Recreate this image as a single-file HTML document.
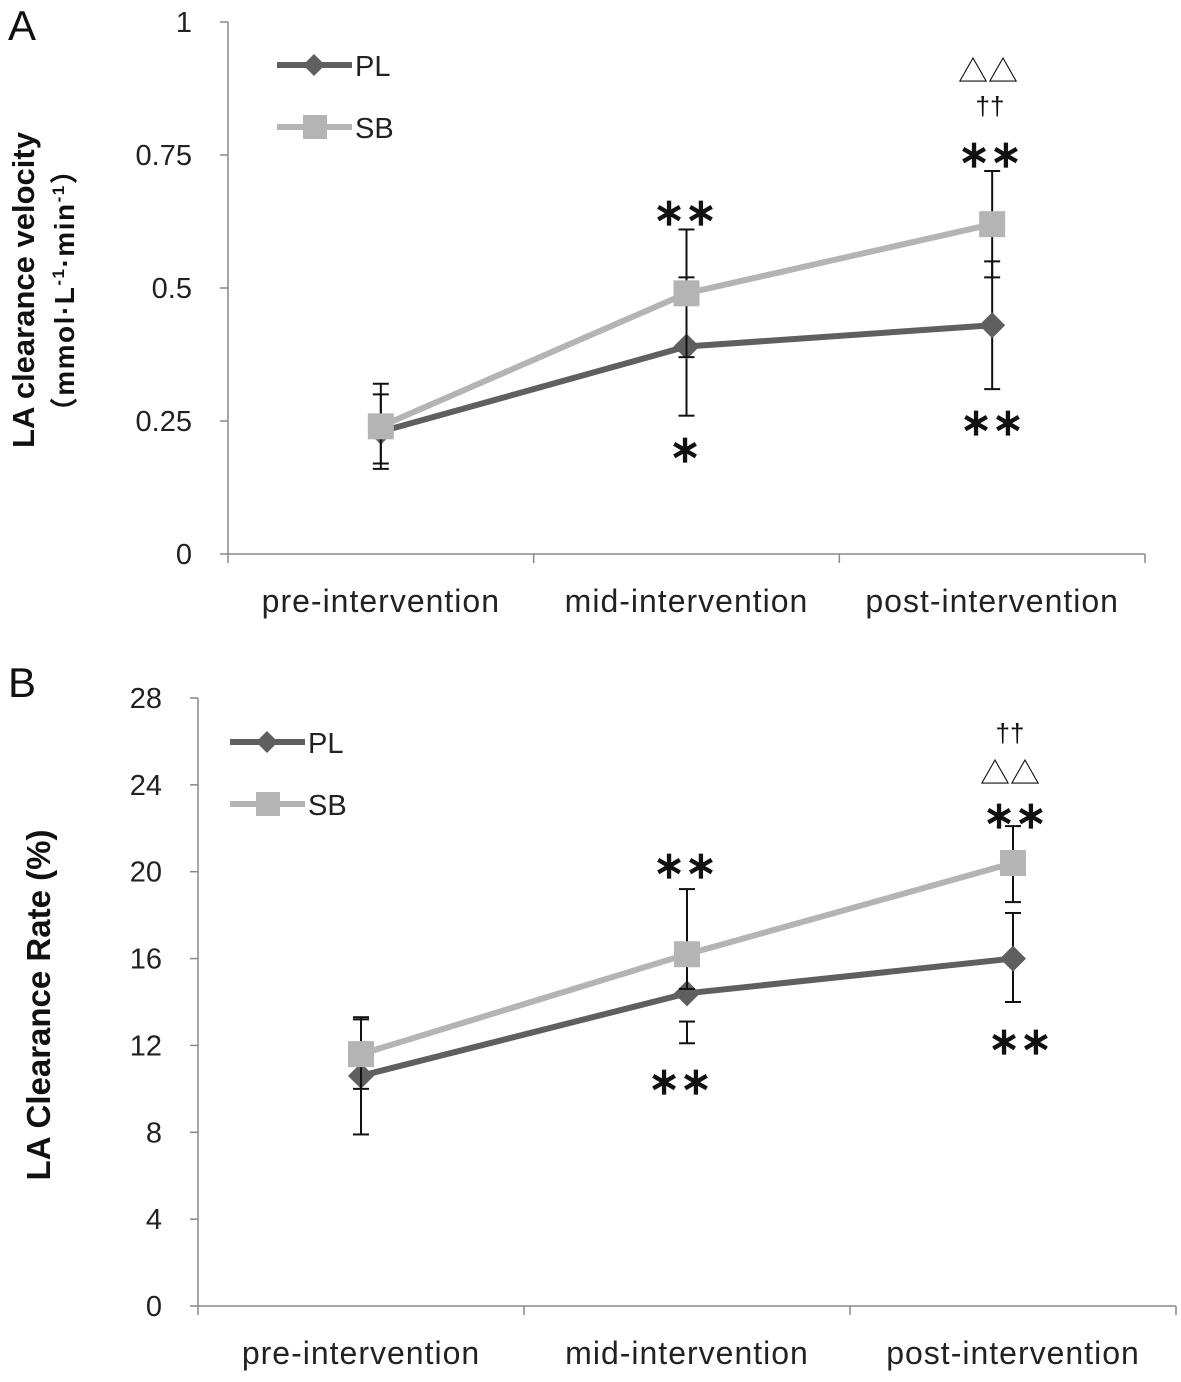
<!DOCTYPE html>
<html><head><meta charset="utf-8"><style>
body{margin:0;background:#fff;}
svg text{font-family:"Liberation Sans","Noto Sans CJK SC",sans-serif;}
</style></head><body>
<svg id="chart" width="1181" height="1377"></svg>
<script>
const categories=["pre-intervention","mid-intervention","post-intervention"];
const aPL=[0.23,0.39,0.43], aPLlo=[0.16,0.26,0.31], aPLhi=[0.30,0.52,0.55];
const aSB=[0.24,0.49,0.62], aSBlo=[0.17,0.37,0.52], aSBhi=[0.32,0.61,0.72];
const aTicks=[0,0.25,0.5,0.75,1];
const aTickLabels=["0","0.25","0.5","0.75","1"];
const bPL=[10.6,14.4,16.0], bPLlo=[7.9,12.1,14.0], bPLhi=[13.2,13.1,18.1];
const bSB=[11.6,16.2,20.4], bSBlo=[10.0,14.6,18.6], bSBhi=[13.3,19.2,22.1];
const bTicks=[0,4,8,12,16,20,24,28];
const bTickLabels=["0","4","8","12","16","20","24","28"];
const NS="http://www.w3.org/2000/svg";
const svg=document.getElementById('chart');
function el(t,a,txt){const e=document.createElementNS(NS,t);for(const k in a)e.setAttribute(k,a[k]);if(txt!==undefined)e.textContent=txt;svg.appendChild(e);return e;}
const DARK="#5f5f5f",LIGHT="#b4b4b4";
function panel(o){
  const y=v=>o.y0-(v-o.vmin)/(o.vmax-o.vmin)*(o.y0-o.y1);
  const bw=(o.x1-o.x0)/categories.length;
  const x=i=>o.x0+bw*(i+0.5);
  let e=el('line',{x1:o.x0,y1:o.y1,x2:o.x0,y2:o.y0,stroke:'#888','stroke-width':1.5});
  
  e=el('line',{x1:o.x0,y1:o.y0,x2:o.x1,y2:o.y0,stroke:'#888','stroke-width':1.5});
  
  o.ticks.forEach((t,i)=>{
    el('line',{x1:o.x0-8,y1:y(t),x2:o.x0,y2:y(t),stroke:'#888','stroke-width':1.5});
    e=el('text',{x:o.x0-36,y:y(t)+10,'text-anchor':'end','font-size':29,fill:'#222'},o.tickLabels[i]);
    
  });
  for(let i=0;i<=categories.length;i++)el('line',{x1:o.x0+bw*i,y1:o.y0,x2:o.x0+bw*i,y2:o.y0+9,stroke:'#888','stroke-width':1.5});
  categories.forEach((c,i)=>{
    e=el('text',{x:x(i),y:o.y0+58,'text-anchor':'middle','font-size':32,'letter-spacing':1,fill:'#222'},c);
    
  });
  function series(vals,lo,hi,col,name,shape){
    vals.forEach((v,i)=>{
      e=el('line',{x1:x(i),y1:y(lo[i]),x2:x(i),y2:y(hi[i]),stroke:'#111','stroke-width':2});
      
      el('line',{x1:x(i)-8,y1:y(lo[i]),x2:x(i)+8,y2:y(lo[i]),stroke:'#111','stroke-width':2});
      el('line',{x1:x(i)-8,y1:y(hi[i]),x2:x(i)+8,y2:y(hi[i]),stroke:'#111','stroke-width':2});
    });
    e=el('polyline',{points:vals.map((v,i)=>x(i)+','+y(v)).join(' '),fill:'none',stroke:col,'stroke-width':6});
    
    vals.forEach((v,i)=>{
      if(shape==='d')e=el('polygon',{points:`${x(i)},${y(v)-13} ${x(i)+13},${y(v)} ${x(i)},${y(v)+13} ${x(i)-13},${y(v)}`,fill:col});
      else e=el('rect',{x:x(i)-13,y:y(v)-13,width:26,height:26,fill:col});
      
    });
  }
  series(o.pl,o.pllo,o.plhi,DARK,'pl','d');
  series(o.sb,o.sblo,o.sbhi,LIGHT,'sb','s');
  [[DARK,'PL','d',o.ly],[LIGHT,'SB','s',o.ly+62]].forEach(([c,n,s,ly])=>{
    el('line',{x1:o.lx,y1:ly,x2:o.lx+75,y2:ly,stroke:c,'stroke-width':6});
    if(s==='d')el('polygon',{points:`${o.lx+37},${ly-11} ${o.lx+48},${ly} ${o.lx+37},${ly+11} ${o.lx+26},${ly}`,fill:c});
    else el('rect',{x:o.lx+26,y:ly-12,width:24,height:24,fill:c});
    e=el('text',{x:o.lx+78,y:ly+11,'font-size':29,fill:'#222'},n);
    
  });
}
panel({p:'a',x0:228,x1:1145,y0:554,y1:22,vmin:0,vmax:1,ticks:aTicks,tickLabels:aTickLabels,pl:aPL,pllo:aPLlo,plhi:aPLhi,sb:aSB,sblo:aSBlo,sbhi:aSBhi,lx:277,ly:65});
panel({p:'b',x0:198,x1:1176,y0:1306,y1:698,vmin:0,vmax:28,ticks:bTicks,tickLabels:bTickLabels,pl:bPL,pllo:bPLlo,plhi:bPLhi,sb:bSB,sblo:bSBlo,sbhi:bSBhi,lx:230,ly:742});
function t(x,y,s,txt,name,w){const e=el('text',{x:x,y:y,'text-anchor':'middle','font-size':s,'font-weight':w||'normal',fill:'#111'},txt);return e;}
t(22,40,42,'A','panel-a-label');t(22,697,42,'B','panel-b-label');
t(685,225,38,'∗∗','a-mid-sb-sig','bold');t(685,462,38,'∗','a-mid-pl-sig','bold');
t(990,167,38,'∗∗','a-post-sb-sig','bold');t(992,435,38,'∗∗','a-post-pl-sig','bold');
t(990,115,26,'††','a-post-dagger');t(988,82,30,'△△','a-post-triangle');
t(685,878,38,'∗∗','b-mid-sb-sig','bold');t(680,1094,38,'∗∗','b-mid-pl-sig','bold');
t(1015,828,38,'∗∗','b-post-sb-sig','bold');t(1020,1054,38,'∗∗','b-post-pl-sig','bold');
t(1010,742,26,'††','b-post-dagger');t(1010,784,30,'△△','b-post-triangle');
let e=el('text',{transform:'translate(34,290) rotate(-90)','text-anchor':'middle','font-size':31,'font-weight':'bold',fill:'#111'},'LA clearance velocity');

e=el('text',{transform:'translate(74,290) rotate(-90)','text-anchor':'middle','font-size':28,'font-weight':'bold','letter-spacing':1.5,fill:'#111'});
e.innerHTML='（mmol·L<tspan font-size="17" dy="-10">-1</tspan><tspan dy="10">·min</tspan><tspan font-size="17" dy="-10">-1</tspan><tspan dy="10">）</tspan>';

e=el('text',{transform:'translate(50,1005) rotate(-90)','text-anchor':'middle','font-size':33,'font-weight':'bold',fill:'#111'},'LA Clearance Rate (%)');

</script>
</body></html>
